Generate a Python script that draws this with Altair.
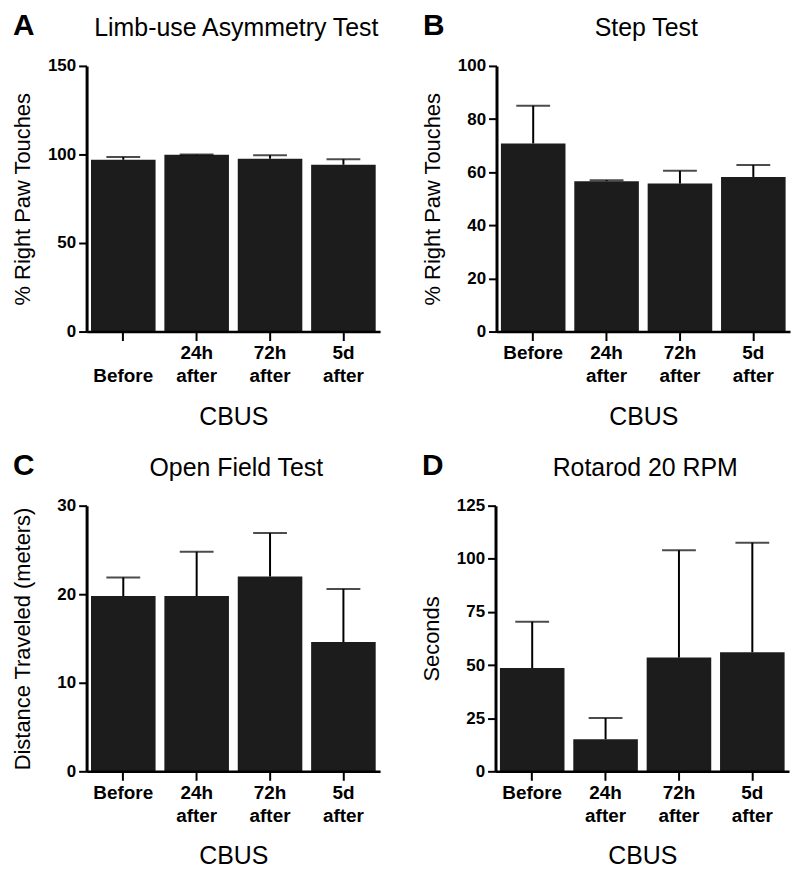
import altair as alt
import pandas as pd

FONT = "Liberation Sans"
W, H = 295, 267

categories = ["Before", "24h after", "72h after", "5d after"]

limb_mean = [97.0, 99.8, 97.6, 94.2]
limb_upper = [98.6, 100.0, 99.5, 97.3]

step_mean = [70.8, 56.6, 55.7, 58.2]
step_upper = [85.0, 57.0, 60.5, 62.7]

open_mean = [19.8, 19.8, 22.0, 14.6]
open_upper = [21.9, 24.8, 26.9, 20.6]

rota_mean = [48.6, 15.1, 53.5, 56.0]
rota_upper = [70.4, 25.1, 104.0, 107.6]

letters = ["A", "B", "C", "D"]
titles = ["Limb-use Asymmetry Test", "Step Test", "Open Field Test", "Rotarod 20 RPM"]
ytitles = ["% Right Paw Touches", "% Right Paw Touches",
           "Distance Traveled (meters)", "Seconds"]
ymaxes = [150, 100, 30, 125]
ysteps = [50, 20, 10, 25]


def panel(letter, title, ytitle, ymax, ystep, mean, upper, before_low=False):
    df = pd.DataFrame({"cat": categories, "mean": mean, "upper": upper})
    if before_low:
        label_expr = "datum.label == 'Before' ? ['', 'Before'] : split(datum.label, ' ')"
    else:
        label_expr = "split(datum.label, ' ')"
    xenc = alt.X(
        "cat:N", sort=categories, title="CBUS",
        scale=alt.Scale(paddingInner=0.12, paddingOuter=0.06),
        axis=alt.Axis(
            labelAngle=0, labelExpr=label_expr, labelFont=FONT, labelFontSize=19,
            labelFontWeight="bold", labelLineHeight=23, labelPadding=3,
            tickSize=9, tickWidth=2, domainWidth=2.5, zindex=1,
            titleFont=FONT, titleFontSize=25, titleFontWeight="normal",
            titlePadding=19,
        ),
    )
    yenc = alt.Y(
        "mean:Q", title=ytitle,
        scale=alt.Scale(domain=[0, ymax], nice=False),
        axis=alt.Axis(
            values=list(range(0, ymax + 1, ystep)), labelFont=FONT,
            labelFontSize=17, labelFontWeight="bold", labelPadding=3,
            tickSize=8, tickWidth=2, domainWidth=3, zindex=1,
            titleFont=FONT, titleFontSize=22, titleFontWeight="normal",
            titleX=-52, titleY=H / 2, titleBaseline="bottom", titleAlign="center",
        ),
    )
    base = alt.Chart(df)
    bars = base.mark_bar(color="#1c1c1c").encode(x=xenc, y=yenc)
    err = base.mark_rule(color="black", strokeWidth=2).encode(
        x=alt.X("cat:N", sort=categories), y="mean:Q", y2="upper:Q")
    cap = base.mark_tick(color="black", thickness=2, size=34).encode(
        x=alt.X("cat:N", sort=categories), y="upper:Q")
    letter_t = alt.Chart(pd.DataFrame({"t": [letter]})).mark_text(
        font=FONT, fontSize=30, fontWeight="bold", align="left",
        baseline="alphabetic", color="black",
    ).encode(text="t:N", x=alt.value(-74), y=alt.value(-31))
    title_t = alt.Chart(pd.DataFrame({"t": [title]})).mark_text(
        font=FONT, fontSize=25, fontWeight="normal", align="center",
        baseline="alphabetic", color="black",
    ).encode(text="t:N", x=alt.value(W / 2 + 3), y=alt.value(-30))
    return alt.layer(bars, err, cap, letter_t, title_t).properties(width=W, height=H)


means = [limb_mean, step_mean, open_mean, rota_mean]
uppers = [limb_upper, step_upper, open_upper, rota_upper]
charts = [
    panel(letters[i], titles[i], ytitles[i], ymaxes[i], ysteps[i], means[i], uppers[i],
          before_low=(i == 0))
    for i in range(4)
]

row1 = alt.hconcat(charts[0], charts[1], spacing=41)
row2 = alt.hconcat(charts[2], charts[3], spacing=41)
chart = alt.vconcat(row1, row2, spacing=22).properties(
    padding={"left": 3, "top": 1, "right": 2, "bottom": 2}
).configure_view(stroke=None).configure_axis(
    domainColor="black", tickColor="black", labelColor="black", titleColor="black",
    grid=False,
)

chart.save("out.html", embed_options={"renderer": "svg", "actions": False})
